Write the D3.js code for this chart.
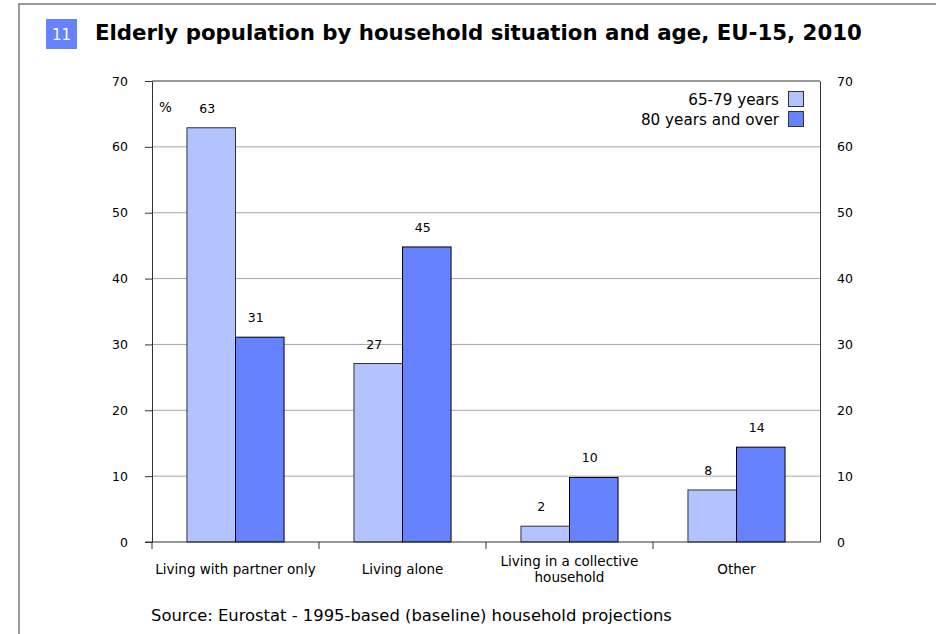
<!DOCTYPE html>
<html>
<head>
<meta charset="utf-8">
<script src="https://cdn.jsdelivr.net/npm/d3@7"></script>
<style>
  body { margin: 0; background: #fff; }
  svg { display: block; font-family: "DejaVu Sans", Verdana, sans-serif; }
</style>
</head>
<body>
<svg id="chart" width="936" height="634"></svg>
<script>
const chartNumber = "11";
const title = "Elderly population by household situation and age, EU-15, 2010";
const source = "Source: Eurostat - 1995-based (baseline) household projections";
const unitLabel = "%";
const categories = ["Living with partner only", "Living alone", "Living in a collective\nhousehold", "Other"];
const seriesNames = ["65-79 years", "80 years and over"];
const values6579 = [62.9, 27.1, 2.4, 7.9];
const values80plus = [31.1, 44.8, 9.8, 14.4];
const yTicks = [0, 10, 20, 30, 40, 50, 60, 70];
const colors = ["#b3c3ff", "#6682ff"];

const svg = d3.select("#chart");

function fitWidth(el, w) {
  const L = el.node().getComputedTextLength();
  const fs = parseFloat(el.attr("font-size"));
  el.attr("font-size", fs * w / L);
}

// outer frame
svg.append("path").attr("d", "M19,634 V4 H936").attr("fill", "none")
  .attr("stroke", "#7a7a7a").attr("stroke-width", 1.5);

// title block
svg.append("rect").attr("x", 46).attr("y", 19).attr("width", 31).attr("height", 30).attr("fill", "#6682ff");
svg.append("text").attr("x", 61.5).attr("y", 40).attr("text-anchor", "middle")
  .attr("fill", "#fff").attr("font-size", 15).text(chartNumber);
const titleEl = svg.append("text").attr("x", 95).attr("y", 40).attr("font-weight", "bold")
  .attr("font-size", 20).attr("fill", "#000").text(title);
fitWidth(titleEl, 767);

const plotLeft = 152, plotRight = 820, plotTop = 81, plotBottom = 542;
const x0 = d3.scaleBand().domain(categories).range([plotLeft, plotRight]).padding(0);
const x1 = d3.scaleBand().domain(seriesNames).range([0, x0.bandwidth()]).paddingInner(0).paddingOuter(0.72);
const y = d3.scaleLinear().domain([0, 70]).range([plotBottom, plotTop]);

// gridlines
svg.append("g").selectAll("line").data(yTicks.filter(d => d > 0 && d < 70)).join("line")
  .attr("x1", plotLeft).attr("x2", plotRight).attr("y1", d => y(d)).attr("y2", d => y(d))
  .attr("stroke", "#a6a6a6").attr("stroke-width", 1);
// top border
svg.append("line").attr("x1", plotLeft).attr("x2", plotRight).attr("y1", y(70)).attr("y2", y(70))
  .attr("stroke", "#333").attr("stroke-width", 1);

// left axis
const gL = svg.append("g").attr("transform", `translate(${plotLeft},0)`)
  .call(d3.axisLeft(y).tickValues(yTicks).tickSize(7).tickPadding(17).tickSizeOuter(0));
gL.select(".domain").attr("stroke", "#333");
gL.selectAll(".tick line").attr("stroke", "#333");
gL.selectAll("text").attr("font-size", 12.5).attr("fill", "#000").attr("font-family", "DejaVu Sans, sans-serif");

// right axis
const gR = svg.append("g").attr("transform", `translate(${plotRight},0)`)
  .call(d3.axisRight(y).tickValues(yTicks).tickSize(0).tickPadding(17).tickSizeOuter(0));
gR.select(".domain").attr("stroke", "#333");
gR.selectAll("text").attr("font-size", 12.5).attr("fill", "#000").attr("font-family", "DejaVu Sans, sans-serif");

// bars
const data = categories.map((c, i) => ({ cat: c, vals: [values6579[i], values80plus[i]] }));
const groups = svg.append("g").selectAll("g").data(data).join("g")
  .attr("transform", d => `translate(${x0(d.cat)},0)`);
groups.selectAll("rect").data(d => d.vals.map((v, j) => ({ s: seriesNames[j], v, j }))).join("rect")
  .attr("x", d => x1(d.s)).attr("width", x1.bandwidth())
  .attr("y", d => y(d.v)).attr("height", d => y(0) - y(d.v))
  .attr("fill", d => colors[d.j]).attr("stroke", d => d.j === 0 ? "#333" : "#000").attr("stroke-width", 1);
groups.selectAll("text.val").data(d => d.vals.map((v, j) => ({ s: seriesNames[j], v, j }))).join("text")
  .attr("class", "val")
  .attr("x", d => x1(d.s) + x1.bandwidth() / 2 - 4).attr("y", d => y(d.v) - 15)
  .attr("text-anchor", "middle").attr("font-size", 12.5).attr("fill", "#000")
  .text(d => Math.round(d.v));

// bottom axis (zero line + category separator ticks)
svg.append("line").attr("x1", plotLeft - 7).attr("x2", plotRight).attr("y1", y(0)).attr("y2", y(0))
  .attr("stroke", "#333").attr("stroke-width", 1.2);
const sepX = categories.map(c => x0(c));
svg.append("g").selectAll("line").data(sepX).join("line")
  .attr("x1", d => d).attr("x2", d => d).attr("y1", y(0)).attr("y2", y(0) + 7)
  .attr("stroke", "#333");

// category labels
svg.append("g").selectAll("text").data(categories).join("text")
  .attr("text-anchor", "middle").attr("font-size", 13.5).attr("fill", "#000")
  .each(function (c) {
    const lines = c.split("\n");
    const cx = x0(c) + x0.bandwidth() / 2;
    const startY = 574 - (lines.length - 1) * 8;
    lines.forEach((ln, k) => {
      d3.select(this).append("tspan").attr("x", cx).attr("y", startY + k * 16).text(ln);
    });
  });

// unit label
svg.append("text").attr("x", 159).attr("y", 112).attr("font-size", 13.5).attr("fill", "#000").text(unitLabel);

// legend
const leg = svg.append("g").selectAll("g").data(seriesNames).join("g")
  .attr("transform", (d, i) => `translate(0,${91 + i * 20})`);
leg.append("rect").attr("x", 788.5).attr("y", 0.5).attr("width", 15).attr("height", 15)
  .attr("fill", (d, i) => colors[i]).attr("stroke", "#333");
leg.append("text").attr("x", 779).attr("y", 14).attr("text-anchor", "end")
  .attr("font-size", 15.2).attr("fill", "#000").text(d => d);

// source
const srcEl = svg.append("text").attr("x", 151).attr("y", 621).attr("font-size", 16).attr("fill", "#000").text(source);
fitWidth(srcEl, 521);
</script>
</body>
</html>
